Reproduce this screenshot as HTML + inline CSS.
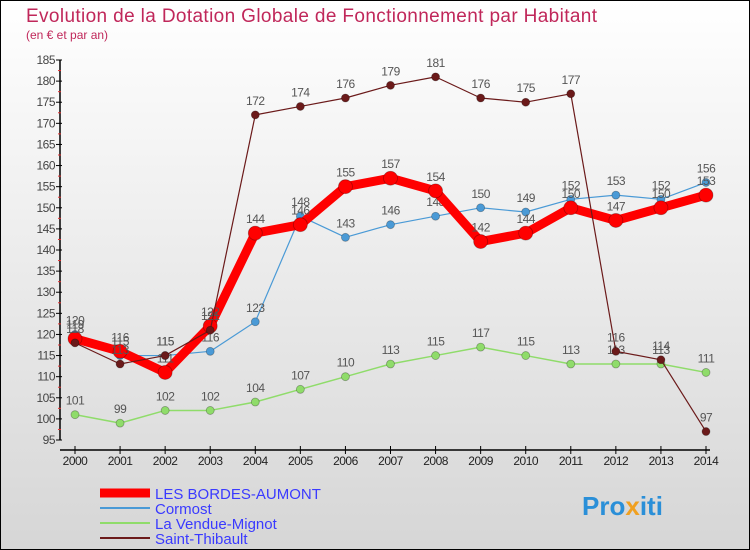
<!DOCTYPE html>
<html><head><meta charset="utf-8"><style>
body{margin:0}
svg{display:block;font-family:"Liberation Sans",sans-serif}
</style></head><body>
<svg width="750" height="550" viewBox="0 0 750 550">
<defs><linearGradient id="bg" x1="0" y1="0" x2="0" y2="1"><stop offset="0" stop-color="#ffffff"/><stop offset="1" stop-color="#d6d6d6"/></linearGradient></defs>
<rect x="0.5" y="0.5" width="749" height="549" fill="url(#bg)" stroke="#000"/>
<text x="26" y="22" font-size="19" fill="#c0275a" textLength="571" lengthAdjust="spacing">Evolution de la Dotation Globale de Fonctionnement par Habitant</text>
<text x="26" y="39" font-size="12" fill="#c0275a">(en € et par an)</text>
<g id="axes"></g><g id="series"></g>
<g>
<line x1="100" y1="493" x2="150" y2="493" stroke="#ff0000" stroke-width="9"/>
<text x="155" y="499" font-size="15" fill="#3a3aff">LES BORDES-AUMONT</text>
<line x1="100" y1="508" x2="150" y2="508" stroke="#4a9ad6" stroke-width="2"/>
<text x="155" y="514" font-size="15" fill="#3a3aff">Cormost</text>
<line x1="100" y1="523" x2="150" y2="523" stroke="#8fdc6a" stroke-width="2"/>
<text x="155" y="529" font-size="15" fill="#3a3aff">La Vendue-Mignot</text>
<line x1="100" y1="538" x2="150" y2="538" stroke="#6b1a1a" stroke-width="2"/>
<text x="155" y="544" font-size="15" fill="#3a3aff">Saint-Thibault</text>
</g>
<text x="582" y="515" font-size="26" font-weight="bold" fill="#2a8fd8">Pro<tspan fill="#f0a020">x</tspan>iti</text>
</svg>
<script>
const years=[2000,2001,2002,2003,2004,2005,2006,2007,2008,2009,2010,2011,2012,2013,2014];
const bordes=[119,116,111,122,144,146,155,157,154,142,144,150,147,150,153];
const cormost=[120,115,115,116,123,148,143,146,148,150,149,152,153,152,156];
const vendue=[101,99,102,102,104,107,110,113,115,117,115,113,113,113,111];
const thibault=[118,113,115,121,172,174,176,179,181,176,175,177,116,114,97];
const yTicks=[95,100,105,110,115,120,125,130,135,140,145,150,155,160,165,170,175,180,185];
const NS="http://www.w3.org/2000/svg";
const x=i=>75+i*(706-75)/(years.length-1);
const y=v=>440-(v-95)*(380/90);
function mk(t,a,p){const e=document.createElementNS(NS,t);for(const k in a)e.setAttribute(k,a[k]);p.appendChild(e);return e;}
const ax=document.getElementById('axes');
const yl=mk('line',{x1:60,y1:y(185),x2:60,y2:y(95),stroke:'#000','stroke-width':1.5},ax);


yTicks.forEach(v=>{
 const tk=mk('line',{x1:56,x2:62,y1:y(v),y2:y(v),stroke:'#000'},ax);
 
 
 if(v<185){const m=mk('line',{x1:58,x2:61,y1:y(v+2.5),y2:y(v+2.5),stroke:'#e03030'},ax);
 
 }
 const t=mk('text',{x:55,y:y(v)+4,'font-size':12,fill:'#444','text-anchor':'end','letter-spacing':'-0.5'},ax);
 t.textContent=v;
 
 
});
const xl=mk('line',{x1:60,y1:450,x2:710,y2:450,stroke:'#000','stroke-width':1.5},ax);


years.forEach((yr,i)=>{
 const tk=mk('line',{x1:x(i),x2:x(i),y1:446,y2:454,stroke:'#000'},ax);
 
 
 const t=mk('text',{x:x(i),y:465,'font-size':12,fill:'#222','text-anchor':'middle','letter-spacing':'-0.5'},ax);
 t.textContent=yr;
 
 
});
const sg=document.getElementById('series');
function series(data,color,w,r,name){
 const g=mk('g',{},sg);
 
 
 const pl=mk('polyline',{points:data.map((v,i)=>x(i)+','+y(v)).join(' '),fill:'none',stroke:color,'stroke-width':w,'stroke-linejoin':'round'},g);
 
 
 data.forEach((v,i)=>{
  const c=mk('circle',{cx:x(i),cy:y(v),r:r,fill:color,stroke:'rgba(0,0,0,0.3)','stroke-width':0.8},g);
  
  
  const t=mk('text',{x:x(i),y:y(v)-10,'font-size':12,fill:'#555','text-anchor':'middle','letter-spacing':'-0.5'},g);
  t.textContent=v;
  
  
 });
}
series(vendue,'#8fdc6a',1.5,4,'vendue');
series(cormost,'#4a9ad6',1.2,4,'cormost');
series(bordes,'#ff0000',9,7,'bordes');
series(thibault,'#6b1a1a',1.2,4,'saint-thibault');
</script>
</body></html>
